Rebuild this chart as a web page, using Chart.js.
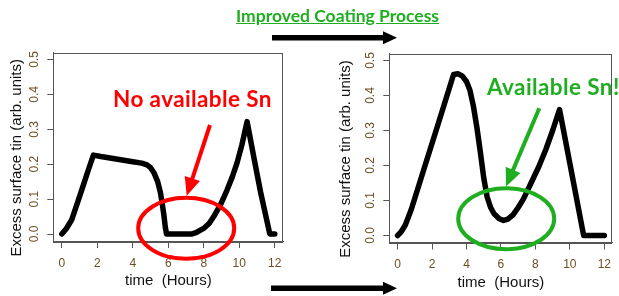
<!DOCTYPE html>
<html>
<head>
<meta charset="utf-8">
<script src="https://cdn.jsdelivr.net/npm/chart.js@4.4.1/dist/chart.umd.min.js"></script>
<style>
  body { margin: 0; width: 619px; height: 296px; overflow: hidden; background: #fff; position: relative; }
  canvas { position: absolute; top: 0; }
  #before { left: 0; }
  #after { left: 310px; }
  #marks { position: absolute; left: 0; top: 0; }
  .note { position: absolute; font-family: Lato, "Open Sans", sans-serif; font-weight: bold; white-space: nowrap; line-height: 1; }
  #title { left: 236px; top: 7px; font-size: 17.5px; color: #1fae1f; text-decoration: underline; }
  #noSn { left: 113px; top: 88px; font-size: 22.5px; letter-spacing: 0.4px; color: #ff0000; }
  #yesSn { left: 487px; top: 75.5px; font-size: 22.5px; letter-spacing: 0.4px; color: #1fae1f; }
</style>
</head>
<body>
<canvas id="before" width="310" height="296"></canvas>
<canvas id="after" width="309" height="296"></canvas>
<svg id="marks" width="619" height="296"></svg>
<div class="note" id="title">Improved Coating Process</div>
<div class="note" id="noSn">No available Sn</div>
<div class="note" id="yesSn">Available Sn!</div>
<script>
// tick values
var xTicks = [0, 2, 4, 6, 8, 10, 12];
var yTicks = [0, 0.1, 0.2, 0.3, 0.4, 0.5];

// before: standard coating
var timeBefore = [0, 0.25, 0.55, 0.9, 1.25, 1.55, 1.78, 2.2, 2.8, 3.4, 4.0, 4.5, 4.8, 5.0, 5.2, 5.4, 5.55, 5.65, 5.75, 5.83, 5.9, 7.3, 7.6, 7.99, 8.3, 8.56, 8.95, 9.31, 9.6, 9.87, 10.15, 10.44, 10.8, 11.2, 11.72, 12];
var tinBefore  = [0, 0.015, 0.04, 0.092, 0.146, 0.192, 0.226, 0.222, 0.217, 0.212, 0.207, 0.203, 0.198, 0.19, 0.175, 0.15, 0.12, 0.09, 0.055, 0.02, 0, 0, 0.005, 0.016, 0.03, 0.05, 0.085, 0.126, 0.163, 0.203, 0.256, 0.322, 0.225, 0.12, 0, 0];

// after: improved coating
var timeAfter = [0, 0.2, 0.45, 0.8, 1.5, 2.3, 3.25, 3.5, 3.75, 4.0, 4.2, 4.4, 4.6, 4.8, 5.0, 5.2, 5.4, 5.6, 5.9, 6.15, 6.4, 6.7, 7.0, 7.3, 7.7, 8.2, 8.6, 9.0, 9.4, 10.1, 10.8, 12];
var tinAfter  = [0, 0.01, 0.03, 0.075, 0.185, 0.31, 0.46, 0.462, 0.456, 0.44, 0.415, 0.37, 0.31, 0.24, 0.165, 0.11, 0.08, 0.062, 0.048, 0.043, 0.047, 0.059, 0.08, 0.104, 0.145, 0.197, 0.245, 0.3, 0.36, 0.18, 0, 0];

var yTitle = 'Excess surface tin (arb. units)';
var xTitle = 'time  (Hours)';
var axisColor = '#555';
var tickColor = '#6b4f22';

function points(xs, ys) {
  return xs.map(function (x, i) { return { x: x, y: ys[i] }; });
}

// box around the plot and rotated y labels (R style)
var rStyle = {
  id: 'rStyle',
  beforeDatasetsDraw: function (chart) {
    var a = chart.chartArea, ctx = chart.ctx;
    ctx.save();
    ctx.strokeStyle = axisColor;
    ctx.lineWidth = 1;
    ctx.strokeRect(Math.round(a.left) + 0.5, Math.round(a.top) + 0.5, Math.round(a.right - a.left) - 1, Math.round(a.bottom - a.top));
    ctx.restore();
  },
  afterDraw: function (chart, args, opts) {
    var a = chart.chartArea, ctx = chart.ctx, ys = chart.scales.y;
    ctx.save();
    ctx.textAlign = 'center';
    ctx.textBaseline = 'middle';
    ctx.fillStyle = tickColor;
    ctx.font = '12px "Liberation Sans", Arial, sans-serif';
    yTicks.forEach(function (v) {
      ctx.save();
      ctx.translate(a.left - opts.tickGap, ys.getPixelForValue(v));
      ctx.rotate(-Math.PI / 2);
      ctx.fillText(v.toFixed(1), 0, 0);
      ctx.restore();
    });
    ctx.fillStyle = '#111';
    ctx.font = '15px "Liberation Sans", Arial, sans-serif';
    ctx.translate(a.left - opts.titleGap, (a.top + a.bottom) / 2 + opts.titleShift);
    ctx.rotate(-Math.PI / 2);
    ctx.fillText(yTitle, 0, 0);
    ctx.restore();
  }
};

function makeChart(id, xs, ys, box) {
  return new Chart(document.getElementById(id), {
    type: 'line',
    data: {
      datasets: [{
        data: points(xs, ys),
        borderColor: '#000',
        borderWidth: 5.5,
        borderCapStyle: 'round',
        borderJoinStyle: 'round',
        pointRadius: 0,
        tension: 0,
        clip: false
      }]
    },
    options: {
      responsive: false,
      devicePixelRatio: 1,
      animation: false,
      events: [],
      layout: { padding: { left: 0, right: box.right, top: box.top, bottom: 0 } },
      plugins: {
        legend: { display: false },
        tooltip: { enabled: false },
        rStyle: { tickGap: box.tickGap, titleGap: box.titleGap, titleShift: 11 }
      },
      scales: {
        x: {
          type: 'linear',
          min: -0.48,
          max: 12.48,
          afterBuildTicks: function (s) { s.ticks = xTicks.map(function (v) { return { value: v }; }); },
          afterFit: function (s) { s.height = box.xHeight; },
          grid: { drawOnChartArea: false, drawTicks: true, tickLength: 7, color: axisColor },
          border: { color: axisColor, width: 1 },
          ticks: { color: tickColor, padding: 8, maxRotation: 0, font: { family: '"Liberation Sans", Arial, sans-serif', size: 12 } },
          title: { display: true, text: xTitle, color: '#111', padding: { top: 0, bottom: box.titlePad }, font: { family: '"Liberation Sans", Arial, sans-serif', size: 15 } }
        },
        y: {
          min: -0.02,
          max: 0.52,
          afterBuildTicks: function (s) { s.ticks = yTicks.map(function (v) { return { value: v }; }); },
          afterFit: function (s) { s.width = box.yWidth; },
          grid: { drawOnChartArea: false, drawTicks: true, tickLength: 6, color: axisColor },
          border: { color: axisColor, width: 1 },
          ticks: { display: false }
        }
      }
    },
    plugins: [rStyle]
  });
}

makeChart('before', timeBefore, tinBefore, { right: 26.7, top: 52.5, xHeight: 55, yWidth: 53.3, tickGap: 18.5, titleGap: 36, titlePad: 6 });
makeChart('after', timeAfter, tinAfter, { right: 0, top: 53.5, xHeight: 53.5, yWidth: 79.3, tickGap: 18.5, titleGap: 43, titlePad: 4 });

// annotation shapes
var svg = document.getElementById('marks');
var NS = 'http://www.w3.org/2000/svg';
function add(tag, attrs) {
  var el = document.createElementNS(NS, tag);
  for (var k in attrs) el.setAttribute(k, attrs[k]);
  svg.appendChild(el);
}
function arrow(x1, y1, x2, y2, color, width, headLen, headHalf) {
  var dx = x2 - x1, dy = y2 - y1, len = Math.sqrt(dx * dx + dy * dy);
  var ux = dx / len, uy = dy / len;
  var bx = x2 - ux * headLen, by = y2 - uy * headLen;
  add('line', { x1: x1, y1: y1, x2: bx + ux, y2: by + uy, stroke: color, 'stroke-width': width });
  add('polygon', { fill: color, points: [x2, y2, bx - uy * headHalf, by + ux * headHalf, bx + uy * headHalf, by - ux * headHalf].join(' ') });
}
arrow(272, 37.7, 397, 37.7, '#000', 5.5, 14, 6.5);
arrow(271, 288.3, 397, 288.3, '#000', 5.5, 14, 6.5);
add('ellipse', { cx: 186.2, cy: 228.3, rx: 48, ry: 30.5, fill: 'none', stroke: '#ff0000', 'stroke-width': 4 });
add('ellipse', { cx: 506.2, cy: 218.7, rx: 48, ry: 30.5, fill: 'none', stroke: '#1fae1f', 'stroke-width': 4 });
arrow(210, 125, 186.7, 195.7, '#ff0000', 4, 18, 8);
arrow(539.3, 108.3, 506, 186.5, '#1fae1f', 4, 18, 8);
</script>
</body>
</html>
